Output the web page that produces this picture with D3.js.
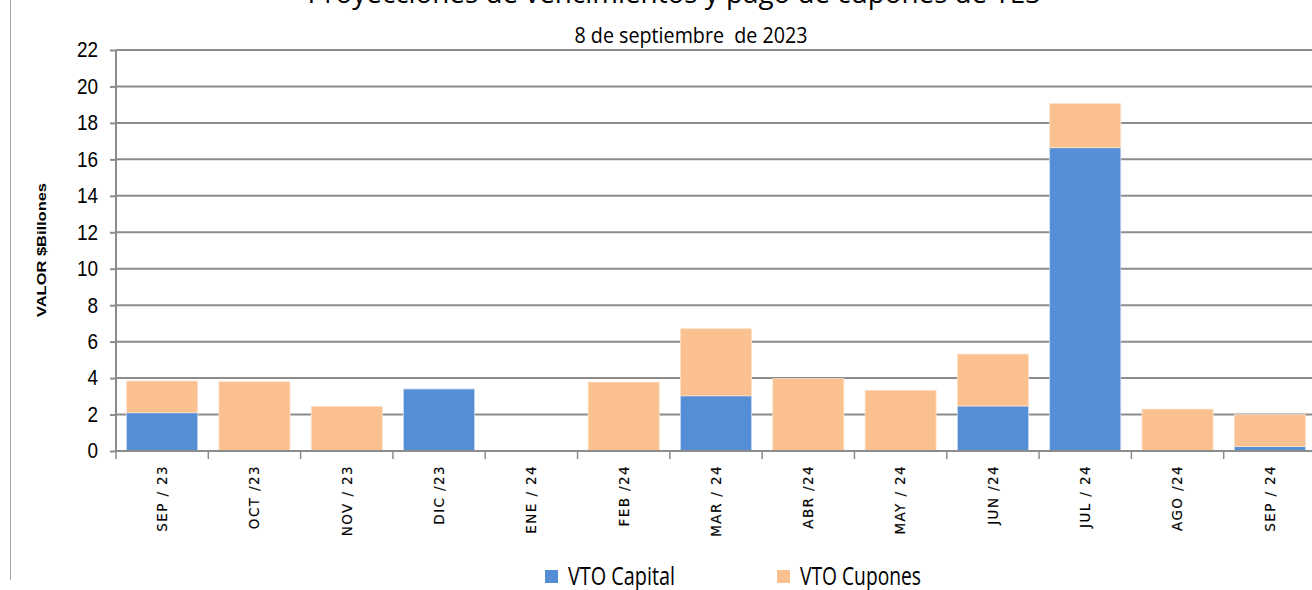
<!DOCTYPE html>
<html>
<head>
<meta charset="utf-8">
<script src="https://cdn.jsdelivr.net/npm/d3@7/dist/d3.min.js"></script>
<style>
  html, body { margin: 0; padding: 0; background: #fff; }
  svg { display: block; }
</style>
</head>
<body>
<svg id="chart" width="1312" height="590"></svg>
<script>
// Monthly TES maturities, split into principal and coupon payments (COP trillions)
const categories = ["SEP / 23", "OCT /23", "NOV / 23", "DIC /23", "ENE / 24", "FEB /24",
                    "MAR / 24", "ABR /24", "MAY / 24", "JUN /24", "JUL / 24", "AGO /24", "SEP / 24"];
const capital  = [2.10, 0, 0, 3.40, 0, 0, 3.03, 0, 0, 2.47, 16.64, 0, 0.25];
const cupones  = [1.74, 3.80, 2.45, 0, 0, 3.78, 3.68, 3.97, 3.33, 2.85, 2.43, 2.30, 1.74];
const yTicks   = [0, 2, 4, 6, 8, 10, 12, 14, 16, 18, 20, 22];
const seriesNames = ["VTO Capital", "VTO Cupones"];
const seriesColors = ["#558ED5", "#FAC090"];

const svg = d3.select("#chart");
const plotLeft = 116, plotRight = 1316, plotTop = 50, plotBottom = 451;

const x = d3.scaleBand().domain(categories).range([plotLeft, plotRight]).paddingInner(0.23).paddingOuter(0.115);
const y = d3.scaleLinear().domain([0, 22]).range([plotBottom, plotTop]);

const sans = "'Liberation Sans', Arial, sans-serif";
const humanist = "'Open Sans', 'Noto Sans', sans-serif";

// squeeze a text element horizontally to mimic a condensed face
function condense(sel, factor) {
  sel.each(function () {
    const w = this.getComputedTextLength();
    d3.select(this).attr("textLength", w * factor).attr("lengthAdjust", "spacingAndGlyphs");
  });
}

// frame line on the left edge
svg.append("line").attr("x1", 10.5).attr("x2", 10.5).attr("y1", 0).attr("y2", 580)
  .attr("stroke", "#a6a6a6").attr("stroke-width", 1);

// horizontal gridlines
svg.append("g").selectAll("line").data(yTicks.filter(d => d > 0)).join("line")
  .attr("x1", plotLeft).attr("x2", 1312)
  .attr("y1", d => y(d)).attr("y2", d => y(d))
  .attr("stroke", "#8c8c8c").attr("stroke-width", 2);

// stacked bars
const stacked = categories.map((c, i) => ({ c, cap: capital[i], cup: cupones[i] }));
const gBars = svg.append("g");
gBars.selectAll("rect.cap").data(stacked.filter(d => d.cap > 0)).join("rect")
  .attr("class", "cap")
  .attr("x", d => x(d.c)).attr("width", x.bandwidth())
  .attr("y", d => y(d.cap)).attr("height", d => y(0) - y(d.cap))
  .attr("fill", seriesColors[0]).attr("stroke", "#c6d9f1").attr("stroke-width", 0.8);
gBars.selectAll("rect.cup").data(stacked.filter(d => d.cup > 0)).join("rect")
  .attr("class", "cup")
  .attr("x", d => x(d.c)).attr("width", x.bandwidth())
  .attr("y", d => y(d.cap + d.cup)).attr("height", d => y(d.cap) - y(d.cap + d.cup))
  .attr("fill", seriesColors[1]).attr("stroke", "#fde2cc").attr("stroke-width", 0.8);

// y axis
const yAxis = d3.axisLeft(y).tickValues(yTicks).tickSize(6).tickPadding(12).tickFormat(d3.format("d"));
const gy = svg.append("g").attr("transform", `translate(${plotLeft},0)`).call(yAxis);
gy.select(".domain").attr("stroke", "#8c8c8c").attr("stroke-width", 2).attr("d", `M0,${plotTop}V${plotBottom}`);
gy.selectAll(".tick line").attr("stroke", "#8c8c8c").attr("stroke-width", 2);
gy.selectAll(".tick text").attr("font-family", sans).attr("font-size", 21.5).attr("fill", "#000")
  .call(condense, 0.88);

// x axis
const xAxis = d3.axisBottom(x).tickSize(0).tickSizeOuter(0);
const gx = svg.append("g").attr("transform", `translate(0,${plotBottom})`).call(xAxis);
gx.select(".domain").attr("stroke", "#8c8c8c").attr("stroke-width", 2).attr("d", `M${plotLeft},0H1312`);
gx.selectAll(".tick text")
  .attr("font-family", "'DejaVu Sans', Verdana, sans-serif").attr("font-size", 13.5)
  .attr("letter-spacing", 1.4)
  .attr("fill", "#000").attr("stroke", "#000").attr("stroke-width", 0.15)
  .attr("text-anchor", "end")
  .attr("transform", "rotate(-90)").attr("x", -14).attr("y", 0).attr("dy", "0.36em");
// category boundary ticks
const bounds = d3.range(categories.length + 1).map(i => plotLeft + i * x.step());
gx.append("g").selectAll("line").data(bounds.filter(b => b < 1312)).join("line")
  .attr("x1", d => d).attr("x2", d => d).attr("y1", 0).attr("y2", 8)
  .attr("stroke", "#8c8c8c").attr("stroke-width", 1.5);

// axis title
svg.append("text").attr("transform", "translate(46,250) rotate(-90)")
  .attr("text-anchor", "middle").attr("font-family", sans)
  .attr("font-weight", "bold").attr("font-size", 12.5)
  .attr("textLength", 134).attr("lengthAdjust", "spacingAndGlyphs")
  .text("VALOR $Billones");

// titles
svg.append("text").attr("x", 674).attr("y", 3).attr("text-anchor", "middle")
  .attr("font-family", humanist).attr("font-size", 28)
  .attr("textLength", 733).attr("lengthAdjust", "spacingAndGlyphs")
  .text("Proyecciones de vencimientos y pago de cupones de TES");
svg.append("text").attr("x", 691).attr("y", 43).attr("text-anchor", "middle")
  .attr("font-family", humanist).attr("font-size", 22.5)
  .attr("textLength", 233).attr("lengthAdjust", "spacingAndGlyphs")
  .attr("xml:space", "preserve")
  .text("8 de septiembre  de 2023");

// legend
const legendX = [545, 777];
const legendW = [107, 121];
const lg = svg.append("g");
seriesNames.forEach((name, i) => {
  lg.append("rect").attr("x", legendX[i]).attr("y", 570).attr("width", 13).attr("height", 13)
    .attr("fill", seriesColors[i]);
  lg.append("text").attr("x", legendX[i] + 23).attr("y", 585)
    .attr("font-family", humanist).attr("font-size", 25.5)
    .attr("textLength", legendW[i]).attr("lengthAdjust", "spacingAndGlyphs")
    .text(name);
});
</script>
</body>
</html>
